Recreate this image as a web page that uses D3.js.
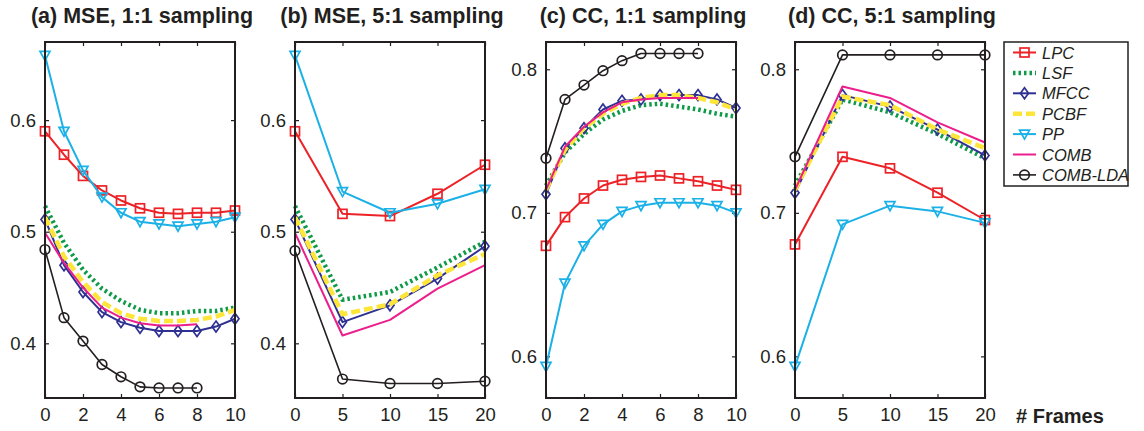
<!DOCTYPE html>
<html>
<head>
<meta charset="utf-8">
<title>MSE / CC vs frames</title>
<script src="https://cdn.jsdelivr.net/npm/d3@7/dist/d3.min.js"></script>
<style>
  body { margin: 0; background: #fff; }
  svg { display: block; font-family: "Liberation Sans", Arial, Helvetica, sans-serif; }
  .title { font-weight: bold; font-size: 21.5px; fill: #231f20; }
  .tick text { font-size: 18.5px; fill: #231f20; }
  .tick line { stroke: #231f20; stroke-width: 1.2; }
  .domain { display: none; }
</style>
</head>
<body>
<svg width="1144" height="431"></svg>
<script>
// ---- données ----
var framesA = [0, 1, 2, 3, 4, 5, 6, 7, 8, 9, 10];
var framesB = [0, 5, 10, 15, 20];

var seriesNames = ["LPC", "LSF", "MFCC", "PCBF", "PP", "COMB", "COMB-LDA"];

// (a) MSE 1:1
var mseA_LPC  = [0.590, 0.569, 0.550, 0.537, 0.528, 0.521, 0.517, 0.516, 0.517, 0.517, 0.519];
var mseA_LSF  = [0.523, 0.490, 0.466, 0.449, 0.438, 0.430, 0.427, 0.427, 0.429, 0.429, 0.432];
var mseA_MFCC = [0.511, 0.470, 0.446, 0.428, 0.419, 0.414, 0.411, 0.411, 0.411, 0.415, 0.422];
var mseA_PCBF = [0.513, 0.478, 0.455, 0.437, 0.427, 0.422, 0.420, 0.420, 0.421, 0.424, 0.430];
var mseA_PP   = [0.658, 0.590, 0.555, 0.531, 0.517, 0.509, 0.507, 0.505, 0.507, 0.509, 0.513];
var mseA_COMB = [0.499, 0.472, 0.450, 0.432, 0.423, 0.418, 0.416, 0.416, 0.417];
var mseA_LDA  = [0.484, 0.423, 0.402, 0.381, 0.370, 0.361, 0.360, 0.360, 0.360];

// (b) MSE 5:1
var mseB_LPC  = [0.590, 0.516, 0.514, 0.534, 0.560];
var mseB_LSF  = [0.523, 0.439, 0.446, 0.468, 0.491];
var mseB_MFCC = [0.511, 0.419, 0.434, 0.458, 0.487];
var mseB_PCBF = [0.513, 0.426, 0.435, 0.461, 0.480];
var mseB_PP   = [0.658, 0.536, 0.517, 0.525, 0.538];
var mseB_COMB = [0.499, 0.407, 0.421, 0.449, 0.470];
var mseB_LDA  = [0.483, 0.368, 0.364, 0.364, 0.366];

// (c) CC 1:1
var ccA_LPC  = [0.677, 0.697, 0.710, 0.719, 0.723, 0.725, 0.726, 0.724, 0.722, 0.719, 0.716];
var ccA_LSF  = [0.719, 0.742, 0.755, 0.765, 0.771, 0.775, 0.776, 0.774, 0.772, 0.769, 0.767];
var ccA_MFCC = [0.713, 0.745, 0.759, 0.772, 0.778, 0.779, 0.782, 0.782, 0.782, 0.779, 0.773];
var ccA_PCBF = [0.716, 0.744, 0.759, 0.769, 0.776, 0.780, 0.782, 0.782, 0.780, 0.777, 0.772];
var ccA_PP   = [0.593, 0.651, 0.677, 0.692, 0.701, 0.705, 0.707, 0.707, 0.707, 0.705, 0.700];
var ccA_COMB = [0.716, 0.746, 0.760, 0.770, 0.777, 0.779, 0.780, 0.780, 0.780];
var ccA_LDA  = [0.738, 0.779, 0.789, 0.799, 0.806, 0.811, 0.811, 0.811, 0.811];

// (d) CC 5:1
var ccB_LPC  = [0.678, 0.739, 0.731, 0.714, 0.695];
var ccB_LSF  = [0.719, 0.779, 0.770, 0.755, 0.738];
var ccB_MFCC = [0.714, 0.782, 0.774, 0.758, 0.740];
var ccB_PCBF = [0.716, 0.781, 0.775, 0.758, 0.745];
var ccB_PP   = [0.593, 0.692, 0.705, 0.701, 0.693];
var ccB_COMB = [0.716, 0.788, 0.780, 0.763, 0.749];
var ccB_LDA  = [0.739, 0.810, 0.810, 0.810, 0.810];

var mseTicks = [0.4, 0.5, 0.6];
var ccTicks = [0.6, 0.7, 0.8];

// ---- styles des séries ----
var styles = {
  "LPC":      {color: "#ec2227", width: 2,   dash: null,  marker: "square"},
  "LSF":      {color: "#0f9a48", width: 4.5, dash: "2.5,3", marker: null},
  "MFCC":     {color: "#2e3192", width: 2,   dash: null,  marker: "diamond"},
  "PCBF":     {color: "#fde53a", width: 4.5, dash: "9,4", marker: null},
  "PP":       {color: "#1bb1e7", width: 2,   dash: null,  marker: "triangle"},
  "COMB":     {color: "#ec1e8c", width: 2,   dash: null,  marker: null},
  "COMB-LDA": {color: "#231f20", width: 1.6, dash: null,  marker: "circle"}
};

var panels = [
  {title: "(a) MSE, 1:1 sampling", left: 45,  x: framesA, xTicks: [0, 2, 4, 6, 8, 10], xDom: [0, 10],
   yDom: [0.351, 0.670], yTicks: mseTicks, fmt: d3.format(".1f"),
   data: [mseA_LPC, mseA_LSF, mseA_MFCC, mseA_PCBF, mseA_PP, mseA_COMB, mseA_LDA]},
  {title: "(b) MSE, 5:1 sampling", left: 295, x: framesB, xTicks: framesB, xDom: [0, 20],
   yDom: [0.351, 0.670], yTicks: mseTicks, fmt: d3.format(".1f"),
   data: [mseB_LPC, mseB_LSF, mseB_MFCC, mseB_PCBF, mseB_PP, mseB_COMB, mseB_LDA]},
  {title: "(c) CC, 1:1 sampling", left: 546, x: framesA, xTicks: [0, 2, 4, 6, 8, 10], xDom: [0, 10],
   yDom: [0.571, 0.819], yTicks: ccTicks, fmt: d3.format(".1f"),
   data: [ccA_LPC, ccA_LSF, ccA_MFCC, ccA_PCBF, ccA_PP, ccA_COMB, ccA_LDA]},
  {title: "(d) CC, 5:1 sampling", left: 795, x: framesB, xTicks: framesB, xDom: [0, 20],
   yDom: [0.571, 0.819], yTicks: ccTicks, fmt: d3.format(".1f"),
   data: [ccB_LPC, ccB_LSF, ccB_MFCC, ccB_PCBF, ccB_PP, ccB_COMB, ccB_LDA]}
];

var largeur = 190, haut = 42, hauteur = 356;
var svg = d3.select("svg");

function marker(g, type, cx, cy, color) {
  var s;
  if (type == "square") {
    s = g.append("rect").attr("x", cx - 4.5).attr("y", cy - 4.5).attr("width", 9).attr("height", 9);
  } else if (type == "diamond") {
    s = g.append("path").attr("d", "M" + cx + "," + (cy - 5.5) + "L" + (cx + 4) + "," + cy + "L" + cx + "," + (cy + 5.5) + "L" + (cx - 4) + "," + cy + "Z");
  } else if (type == "triangle") {
    s = g.append("path").attr("d", "M" + (cx - 5) + "," + (cy - 4) + "L" + (cx + 5) + "," + (cy - 4) + "L" + cx + "," + (cy + 5) + "Z");
  } else if (type == "circle") {
    s = g.append("circle").attr("cx", cx).attr("cy", cy).attr("r", 4.8);
  }
  s.attr("fill", "none").attr("stroke", color).attr("stroke-width", 1.7);
}

panels.forEach(function (p) {
  var x = d3.scaleLinear().domain(p.xDom).range([p.left, p.left + largeur]);
  var y = d3.scaleLinear().domain(p.yDom).range([haut + hauteur, haut]);

  svg.append("text").attr("class", "title")
    .attr("x", p.left + largeur / 2 + 2).attr("y", 23)
    .attr("text-anchor", "middle").text(p.title);

  // axes, graduations vers l'intérieur
  svg.append("g").attr("transform", "translate(0," + (haut + hauteur) + ")")
    .call(d3.axisBottom(x).tickValues(p.xTicks).tickSizeInner(-4).tickSizeOuter(0).tickPadding(10));
  svg.append("g").attr("transform", "translate(0," + haut + ")")
    .call(d3.axisTop(x).tickValues(p.xTicks).tickSizeInner(-4).tickSizeOuter(0).tickFormat(""));
  svg.append("g").attr("transform", "translate(" + p.left + ",0)")
    .call(d3.axisLeft(y).tickValues(p.yTicks).tickFormat(p.fmt).tickSizeInner(-4).tickSizeOuter(0).tickPadding(9));
  svg.append("g").attr("transform", "translate(" + (p.left + largeur) + ",0)")
    .call(d3.axisRight(y).tickValues(p.yTicks).tickSizeInner(-4).tickSizeOuter(0).tickFormat(""));

  p.data.forEach(function (vals, i) {
    var st = styles[seriesNames[i]];
    var pts = vals.map(function (v, k) { return [x(p.x[k]), y(v)]; });
    var g = svg.append("g");
    g.append("path")
      .attr("d", d3.line()(pts))
      .attr("fill", "none")
      .attr("stroke", st.color)
      .attr("stroke-width", st.width)
      .attr("stroke-dasharray", st.dash)
      .attr("stroke-linejoin", "round");
    if (st.marker) {
      pts.forEach(function (pt) { marker(g, st.marker, pt[0], pt[1], st.color); });
    }
  });

  svg.append("rect")
    .attr("x", p.left).attr("y", haut).attr("width", largeur).attr("height", hauteur)
    .attr("fill", "none").attr("stroke", "#231f20").attr("stroke-width", 2);
});

// légende
var leg = svg.append("g");
leg.append("rect").attr("x", 1004).attr("y", 42).attr("width", 124).attr("height", 144)
  .attr("fill", "#fff").attr("stroke", "#231f20").attr("stroke-width", 1.5);
seriesNames.forEach(function (nom, i) {
  var st = styles[nom];
  var ly = 52.5 + i * 20.4;
  leg.append("line").attr("x1", 1013).attr("x2", 1036).attr("y1", ly).attr("y2", ly)
    .attr("stroke", st.color).attr("stroke-width", st.width)
    .attr("stroke-dasharray", st.dash);
  if (st.marker) marker(leg, st.marker, 1024.5, ly, st.color);
  leg.append("text").attr("x", 1042).attr("y", ly + 6)
    .attr("font-style", "italic").attr("font-size", "16.5px").attr("fill", "#231f20")
    .text(nom);
});

svg.append("text").attr("x", 1016).attr("y", 423)
  .attr("font-weight", "bold").attr("font-size", "20px").attr("fill", "#231f20")
  .text("# Frames");
</script>
</body>
</html>
